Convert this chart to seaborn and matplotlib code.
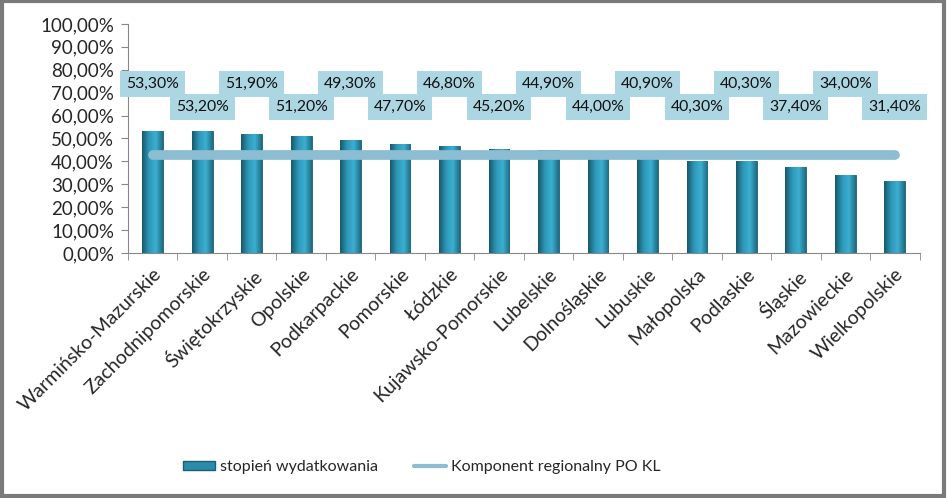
import numpy as np
import pandas as pd
import seaborn as sns
import matplotlib.pyplot as plt
from matplotlib.patches import Rectangle
from matplotlib.lines import Line2D
from matplotlib.ticker import FuncFormatter, FixedLocator

# Data
regions = ['Warmińsko-Mazurskie', 'Zachodnipomorskie', 'Świętokrzyskie', 'Opolskie',
           'Podkarpackie', 'Pomorskie', 'Łódzkie', 'Kujawsko-Pomorskie', 'Lubelskie',
           'Dolnośląskie', 'Lubuskie', 'Małopolska', 'Podlaskie', 'Śląskie',
           'Mazowieckie', 'Wielkopolskie']
spending = [53.3, 53.2, 51.9, 51.2, 49.3, 47.7, 46.8, 45.2, 44.9,
            44.0, 40.9, 40.3, 40.3, 37.4, 34.0, 31.4]
regional_component = 42.7

bar_label = 'stopień wydatkowania'
line_label = 'Komponent regionalny PO KL'

df = pd.DataFrame({'region': regions, 'value': [v / 100 for v in spending]})

sns.set_style('white')
plt.rcParams['font.family'] = ['Lato', 'DejaVu Sans']

fig = plt.figure(figsize=(9.48, 4.98), dpi=100)
ax = fig.add_axes([0.135, 0.492, 0.835, 0.46])

sns.barplot(data=df, x='region', y='value', color='#2B8BA8', width=0.42,
            edgecolor='#1C5F75', linewidth=0.6, ax=ax, zorder=2)

# cylinder-like horizontal gradient on each bar
grad = np.linspace(0, 1, 64)
cmap = sns.blend_palette(['#17586C', '#2E97B8', '#3BAFD0', '#1E6C84'], as_cmap=True)
for p in ax.patches:
    x0, y0 = p.get_x(), p.get_y()
    w, h = p.get_width(), p.get_height()
    im = ax.imshow(grad[None, :], cmap=cmap, aspect='auto',
                   extent=[x0, x0 + w, y0, y0 + h], zorder=2.5)
    im.set_clip_path(p)

# regional component line
n = len(regions)
sns.lineplot(x=[0, n - 1], y=[regional_component / 100] * 2, ax=ax,
             color='#8CBDD2', linewidth=7, solid_capstyle='round', zorder=3)

# value labels in boxes, alternating heights
for i, v in enumerate(spending):
    ypos = 0.738 if i % 2 == 0 else 0.638
    ax.text(i, ypos, f'{v:.2f}%'.replace('.', ','), ha='center', va='center',
            fontsize=11.3, color='#111111', zorder=4,
            bbox=dict(boxstyle='square,pad=0.38', fc='#ADD6E3', ec='none'))

ax.set_xlim(-0.5, n - 0.5)
ax.set_ylim(0, 1)
ax.set_yticks(np.arange(0, 1.01, 0.1))
ax.yaxis.set_major_formatter(FuncFormatter(lambda v, _: f'{v * 100:.2f}%'.replace('.', ',')))
ax.tick_params(axis='y', labelsize=13.5, length=5, color='#888888', left=True, pad=5)
ax.set_xticks(range(n))
ax.set_xticklabels(regions, rotation=45, ha='right', rotation_mode='anchor', fontsize=14)
ax.tick_params(axis='x', length=0, pad=9)
ax.xaxis.set_minor_locator(FixedLocator(np.arange(-0.5, n, 1)))
ax.tick_params(axis='x', which='minor', length=5, color='#888888', bottom=True)
ax.set_xlabel('')
ax.set_ylabel('')
for s in ['top', 'right']:
    ax.spines[s].set_visible(False)
for s in ['left', 'bottom']:
    ax.spines[s].set_color('#888888')
    ax.spines[s].set_linewidth(0.8)

# legend
handles = [Rectangle((0, 0), 1, 1, fc='#2B8BA8', ec='#1C5F75'),
           Line2D([], [], color='#8CBDD2', linewidth=3)]
fig.legend(handles, [bar_label, line_label], loc='center', bbox_to_anchor=(0.445, 0.062),
           ncol=2, frameon=False, fontsize=11.5, handlelength=2.0, handleheight=0.5,
           handletextpad=0.3, columnspacing=2.3)

# outer frame
fig.add_artist(Rectangle((0.002, 0.004), 0.994, 0.993, transform=fig.transFigure,
                         fill=False, ec='#7A7A7A', lw=3))

fig.savefig('out.png', dpi=100)
